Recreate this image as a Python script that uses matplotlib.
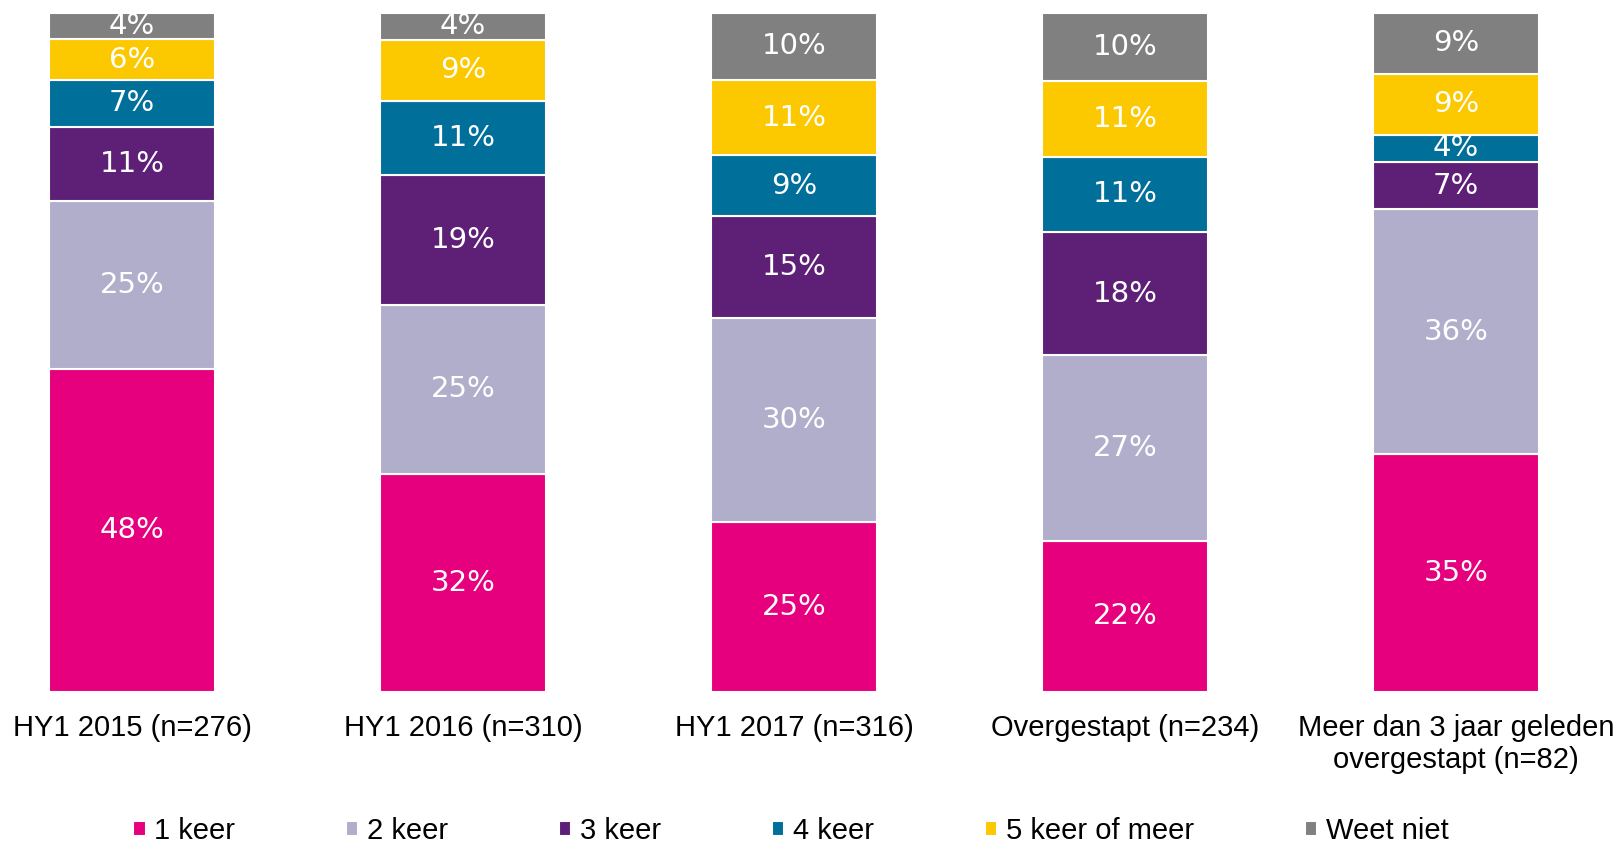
import numpy as np
import matplotlib.pyplot as plt

categories = ["HY1 2015 (n=276)", "HY1 2016 (n=310)", "HY1 2017 (n=316)",
              "Overgestapt (n=234)", "Meer dan 3 jaar geleden\novergestapt (n=82)"]
series = ["1 keer", "2 keer", "3 keer", "4 keer", "5 keer of meer", "Weet niet"]
values = {
    "1 keer":         [48, 32, 25, 22, 35],
    "2 keer":         [25, 25, 30, 27, 36],
    "3 keer":         [11, 19, 15, 18, 7],
    "4 keer":         [7, 11, 9, 11, 4],
    "5 keer of meer": [6, 9, 11, 11, 9],
    "Weet niet":      [4, 4, 10, 10, 9],
}
colors = ["#E6007E", "#B1AECB", "#5E1F77", "#006F9A", "#FCC800", "#808080"]

data = np.array([values[s] for s in series], dtype=float)
# 100% stacked: each column scaled to its own total
shares = data / data.sum(axis=0) * 100

fig = plt.figure(figsize=(16.21, 8.51), dpi=100)
ax = fig.add_axes([0, 0.1873, 1, 0.798])

x = np.arange(len(categories))
bottom = np.zeros(len(categories))
for i, name in enumerate(series):
    ax.bar(x, shares[i], width=0.5, bottom=bottom, color=colors[i],
           edgecolor="white", linewidth=1.5, label=name)
    for j in range(len(categories)):
        ax.text(x[j], bottom[j] + shares[i][j] / 2, "%d%%" % data[i][j],
                ha="center", va="center", color="white", fontsize=21,
                family="DejaVu Sans")
    bottom += shares[i]

ax.set_xlim(-0.3988, 4.4985)
ax.set_ylim(0, 100)
ax.set_yticks([])
ax.set_xticks(x)
ax.set_xticklabels(categories, fontsize=21, family="Liberation Sans", linespacing=1.2)
ax.tick_params(axis="x", length=0, pad=16)
for sp in ax.spines.values():
    sp.set_visible(False)

fig.legend(loc="center", bbox_to_anchor=(0.488, 0.024), ncol=6, frameon=False,
           prop={"family": "Liberation Sans", "size": 21},
           handlelength=0.42, handleheight=0.42, handletextpad=0.3,
           columnspacing=3.8, borderpad=0.2)

fig.savefig("out.png", dpi=100)
